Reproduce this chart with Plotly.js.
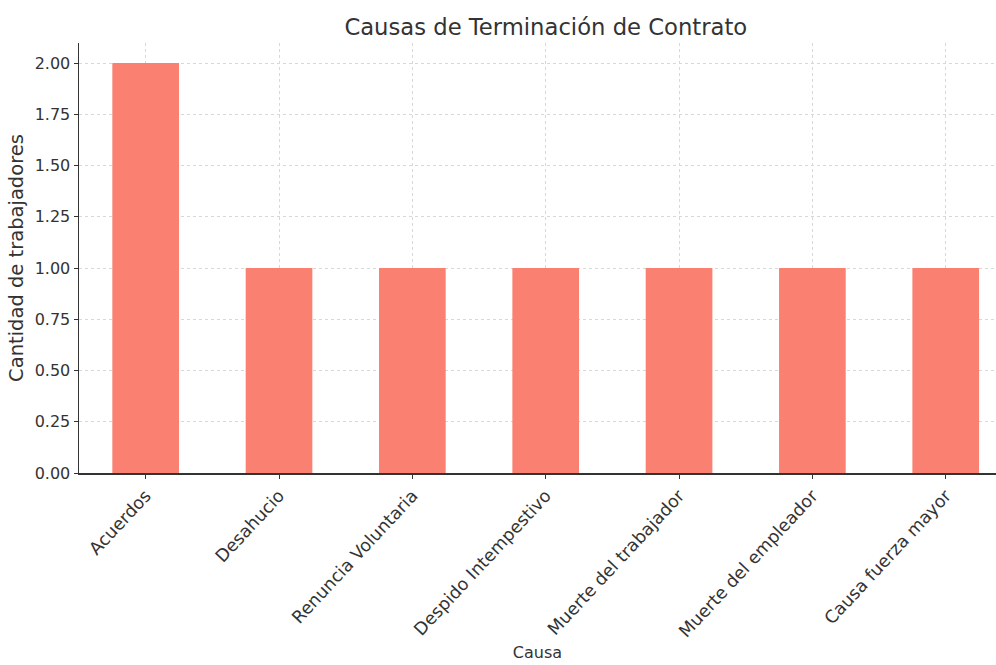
<!DOCTYPE html>
<html>
<head>
<meta charset="utf-8">
<script src="https://cdn.plot.ly/plotly-3.0.1.min.js"></script>
<style>html,body{margin:0;padding:0;background:#fff;}#chart{width:996px;height:665px;}</style>
</head>
<body>
<div id="chart"></div>
<script>
const causas = ["Acuerdos", "Desahucio", "Renuncia Voluntaria", "Despido Intempestivo", "Muerte del trabajador", "Muerte del empleador", "Causa fuerza mayor"];
const cantidad = [2, 1, 1, 1, 1, 1, 1];
const titulo = "Causas de Terminación de Contrato";
const tituloX = "Causa";
const tituloY = "Cantidad de trabajadores";

const font = "DejaVu Sans, sans-serif";
const trace = {
  type: "bar",
  x: causas,
  y: cantidad,
  width: 0.5,
  marker: {color: "#FA8072", line: {width: 0}},
  hoverinfo: "x+y"
};
const layout = {
  width: 996, height: 665,
  margin: {l: 79, r: 0, t: 43, b: 192},
  paper_bgcolor: "#fff", plot_bgcolor: "#fff",
  font: {family: font, color: "#333", size: 16},
  showlegend: false,
  title: {text: titulo, font: {family: font, size: 22.7, color: "#333"}, x: 0.548, xanchor: "center", y: 0.96, yanchor: "middle"},
  xaxis: {
    type: "category",
    range: [-0.5, 6.377],
    showline: true, linecolor: "#333", linewidth: 1.5,
    ticks: "outside", ticklen: 4, tickcolor: "#333",
    tickangle: -47,
    tickfont: {family: font, size: 17.5, color: "#333"},
    showgrid: true, gridcolor: "#d8d8d8", griddash: "dot", gridwidth: 1,
    zeroline: false,
    title: {text: tituloX, font: {family: font, size: 16, color: "#333"}, standoff: 6}
  },
  yaxis: {
    range: [0, 2.098],
    tickmode: "linear", tick0: 0, dtick: 0.25, tickformat: ".2f",
    showline: true, linecolor: "#333", linewidth: 1.5,
    ticks: "outside", ticklen: 4, tickcolor: "#333",
    tickfont: {family: font, size: 16, color: "#333"},
    showgrid: true, gridcolor: "#d8d8d8", griddash: "dot", gridwidth: 1,
    zeroline: false,
    title: {text: tituloY, font: {family: font, size: 19.5, color: "#333"}, standoff: 6}
  },
  bargap: 0.5
};
Plotly.newPlot("chart", [trace], layout, {displayModeBar: false, staticPlot: true});
</script>
</body>
</html>
